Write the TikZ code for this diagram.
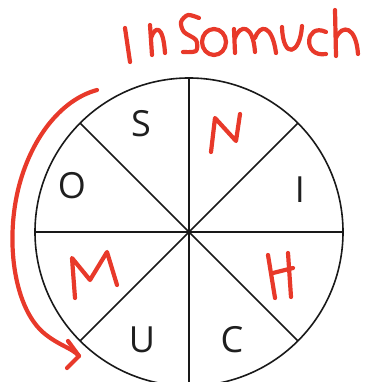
\documentclass[tikz,border=0pt]{standalone}
\usepackage{fontspec}
\setmainfont{Open Sans}
\definecolor{pen}{HTML}{E8392A}
\tikzset{
  letter/.style={font=\fontsize{36}{36}\selectfont, text=black!88, inner sep=0pt},
  ink/.style={draw=pen, line width=4.2pt, line cap=round, line join=round},
  rim/.style={line width=1.6pt, draw=black!90},
}
\begin{document}
\begin{tikzpicture}[x=1pt,y=-1pt]
    \useasboundingbox (0,0) rectangle (367,382);
    
    % wheel
    \coordinate (c) at (189,232);
    \draw[rim] (c) circle (154);
    \foreach \a in {0,45,...,315}
    \draw[rim] (c) -- ++(\a:154);
    
    % printed letters
    \node[letter] (s) at (141,124) {S};
    \node[letter] (i) at (300,190) {I};
    \node[letter] (cc) at (232,340) {C};
    \node[letter] (u) at (142,340) {U};
    \node[letter] (o) at (72,186) {O};
    
    % handwritten letters in the wheel
    \draw[ink] plot[smooth] coordinates {(211,152) (213,135) (215,118)}
        -- (236,141) -- (240,114);
    \draw[ink] (268,255) -- (275,298);
    \draw[ink] (273,273) -- (293,268);
    \draw[ink] (288,253) -- (291,297);
    \draw[ink] (75,298) -- (72,258) -- (90,280) -- (107,252) -- (117,285);
    
    % the word
    \draw[ink] (125,28) .. controls (127,45) .. (130,62);
    \draw[ink] (150,25) -- (152,55);
    \draw[ink] (151,38) .. controls (155,26) and (163,24) .. (165,53);
    \draw[ink] plot[smooth] coordinates {(199,18) (188,15) (181,22) (184,32) (196,40) (196,51) (183,52)};
    \draw[ink] (214,42) ellipse (12 and 13);
    \draw[ink] (234,29) -- (235,53);
    \draw[ink] (235,38) .. controls (240,24) and (253,24) .. (255,52);
    \draw[ink] (255,38) .. controls (260,24) and (272,24) .. (276,53);
    \draw[ink] (282,27) .. controls (283,60) and (300,55) .. (302,26);
    \draw[ink] (326,32) .. controls (305,22) and (302,58) .. (326,54);
    \draw[ink] (335,10) -- (336,56);
    \draw[ink] (336,38) .. controls (342,24) and (356,26) .. (358,54);
    
    % arrow round the left side
    \coordinate (start) at (97,90);
    \coordinate (tip) at (79,356);
    \draw[ink] (start) .. controls (60,100) and (30,140) .. (18,190)
        .. controls (5,245) and (15,310) .. (45,334)
        .. controls (60,346) and (72,348) .. (tip);
    \draw[ink] (68,341) -- (tip) -- (67,368);
\end{tikzpicture}
\end{document}
